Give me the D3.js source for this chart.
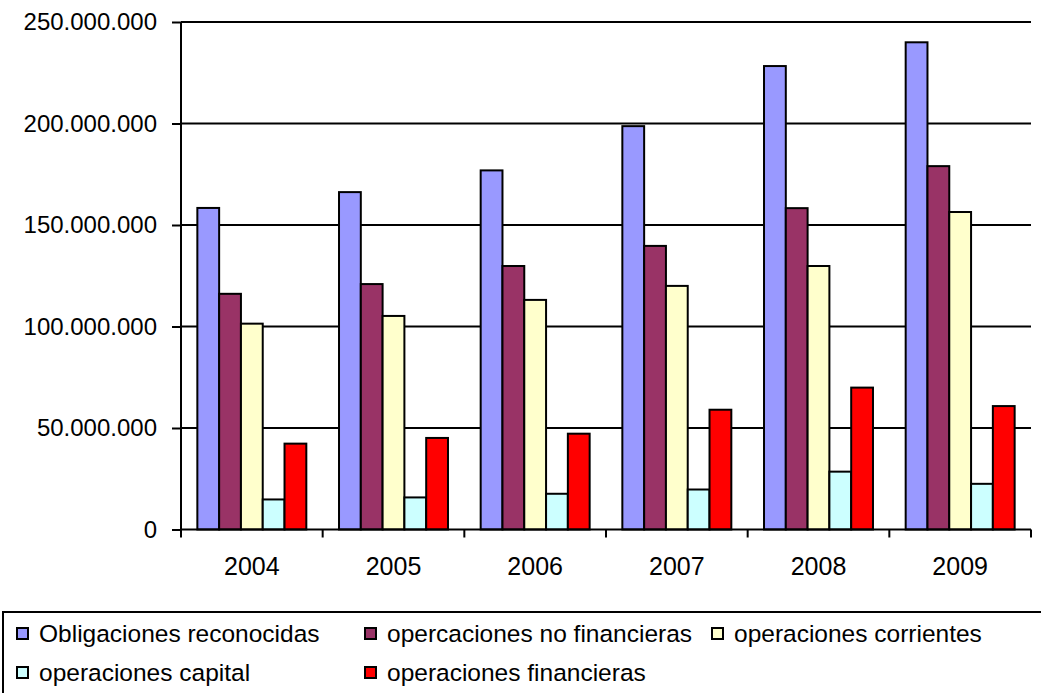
<!DOCTYPE html>
<html>
<head>
<meta charset="utf-8">
<script src="https://cdn.jsdelivr.net/npm/d3@7"></script>
<style>
  body { margin: 0; background: #fff; }
  svg { display: block; font-family: Arial, "Liberation Sans", sans-serif; }
</style>
</head>
<body>
<svg id="chart" width="1041" height="693"></svg>
<script>
var years = ['2004', '2005', '2006', '2007', '2008', '2009'];
var seriesNames = ['Obligaciones reconocidas', 'opercaciones no financieras', 'operaciones corrientes',
                   'operaciones capital', 'operaciones financieras'];
var seriesColors = ['#9999ff', '#993366', '#ffffcc', '#ccffff', '#ff0000'];
var obligaciones = [158400000, 166200000, 176900000, 198700000, 228300000, 240000000];
var noFinancieras = [116100000, 120900000, 129800000, 139700000, 158300000, 179000000];
var corrientes    = [101400000, 105200000, 113100000, 120000000, 129800000, 156400000];
var capital       = [14800000, 15800000, 17600000, 19700000, 28500000, 22500000];
var financieras   = [42300000, 45100000, 47200000, 59000000, 69900000, 60800000];
var yTicks = [0, 50000000, 100000000, 150000000, 200000000, 250000000];

(function () {
    var values = [obligaciones, noFinancieras, corrientes, capital, financieras];
    var FONT = 'Arial, "Liberation Sans", sans-serif';
    var svg = d3.select('#chart');
    var pLeft = 181, pRight = 1031, pTop = 22, pBottom = 529.5;
    var fmt = function (v) { return d3.format(',')(v).replace(/,/g, '.'); };

    var x0 = d3.scaleBand().domain(years).range([pLeft, pRight]).paddingInner(0).paddingOuter(0);
    var bw = x0.bandwidth();
    /* excel gap width 150% */
    var x1 = d3.scaleBand().domain(d3.range(seriesNames.length))
               .range([bw * 0.75 / 6.5, bw * 5.75 / 6.5]);
    var y = d3.scaleLinear().domain([0, 250000000]).range([pBottom, pTop]);

    /* gridlines */
    svg.append('g').selectAll('line')
       .data(yTicks.slice(1))
       .enter().append('line')
         .attr('x1', pLeft).attr('x2', pRight)
         .attr('y1', function (d) { return y(d); })
         .attr('y2', function (d) { return y(d); })
         .attr('stroke', '#000').attr('stroke-width', 2);

    /* bars */
    var groups = svg.append('g').selectAll('g')
       .data(years)
       .enter().append('g')
         .attr('transform', function (d) { return 'translate(' + x0(d) + ',0)'; });

    groups.selectAll('rect')
       .data(function (d, i) { return values.map(function (s, k) { return { k: k, v: s[i] }; }); })
       .enter().append('rect')
         .attr('x', function (d) { return x1(d.k); })
         .attr('y', function (d) { return y(d.v); })
         .attr('width', x1.bandwidth())
         .attr('height', function (d) { return pBottom - y(d.v); })
         .attr('fill', function (d) { return seriesColors[d.k]; })
         .attr('stroke', '#000').attr('stroke-width', 2);

    /* y axis */
    var yAxis = svg.append('g')
       .attr('transform', 'translate(' + pLeft + ',0)')
       .call(d3.axisLeft(y).tickValues(yTicks).tickFormat(fmt).tickSize(9).tickPadding(15));
    yAxis.select('.domain').attr('stroke', '#000').attr('stroke-width', 2)
         .attr('d', 'M0,' + pTop + 'V' + pBottom);
    yAxis.selectAll('.tick line').attr('stroke', '#000').attr('stroke-width', 2);
    yAxis.selectAll('text').attr('font-size', 24).attr('fill', '#000').attr('font-family', FONT);

    /* x axis */
    var xAxis = svg.append('g')
       .attr('transform', 'translate(0,' + pBottom + ')')
       .call(d3.axisBottom(x0).tickSize(0).tickPadding(28));
    xAxis.select('.domain').attr('stroke', '#000').attr('stroke-width', 2)
         .attr('d', 'M' + pLeft + ',0H' + pRight);
    xAxis.selectAll('text').attr('font-size', 25).attr('fill', '#000').attr('font-family', FONT);
    xAxis.append('g').selectAll('line')
       .data(d3.range(years.length + 1))
       .enter().append('line')
         .attr('x1', function (d) { return pLeft + d * bw; })
         .attr('x2', function (d) { return pLeft + d * bw; })
         .attr('y1', 0).attr('y2', 8)
         .attr('stroke', '#000').attr('stroke-width', 2);

    /* legend */
    svg.append('rect')
       .attr('x', 3).attr('y', 612).attr('width', 1045).attr('height', 100)
       .attr('fill', '#fff').attr('stroke', '#000').attr('stroke-width', 2);

    var legendX = [16, 364, 711];
    var legendY = [633.5, 672.5];
    var items = svg.append('g').selectAll('g')
       .data(seriesNames)
       .enter().append('g')
         .attr('transform', function (d, i) {
            return 'translate(' + legendX[i % 3] + ',' + legendY[Math.floor(i / 3)] + ')';
         });
    items.append('rect')
       .attr('x', 1).attr('y', -5.5).attr('width', 11).attr('height', 11)
       .attr('fill', function (d, i) { return seriesColors[i]; })
       .attr('stroke', '#000').attr('stroke-width', 2);
    items.append('text')
       .attr('x', 23).attr('y', 0).attr('dy', '0.35em')
       .attr('font-size', 24.5).attr('font-family', FONT)
       .text(function (d) { return d; });
})();
</script>
</body>
</html>
